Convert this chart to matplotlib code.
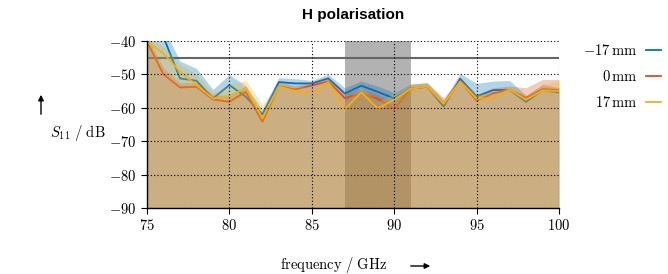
import numpy as np
import matplotlib
matplotlib.use("Agg")
import matplotlib.pyplot as plt
from matplotlib.patches import FancyArrowPatch

plt.rcParams['mathtext.fontset'] = 'cm'
plt.rcParams['font.family'] = ['DejaVu Serif']

freq = np.arange(75, 101)

s11_m17 = [-36.0, -38.8, -51.2, -51.9, -57.2, -53.2, -56.7, -62.0, -52.3, -52.7, -52.7, -51.2,
           -55.7, -53.4, -55.2, -57.2, -54.3, -53.7, -59.6, -51.3, -56.6, -54.7, -54.6, -58.2,
           -54.7, -55.4]
s11_0 = [-40.2, -50.0, -53.9, -53.7, -57.5, -58.2, -55.2, -64.2, -53.5, -54.5, -53.3, -52.1,
         -57.1, -55.8, -57.3, -60.4, -54.2, -53.7, -58.7, -52.0, -57.9, -55.7, -54.6, -57.0,
         -54.4, -54.7]
s11_p17 = [-40.2, -43.7, -49.2, -53.2, -57.2, -56.4, -54.2, -63.1, -53.6, -55.0, -56.1, -52.4,
           -60.5, -55.4, -60.2, -57.6, -54.3, -53.6, -58.8, -52.2, -57.2, -57.2, -54.5, -57.6,
           -54.8, -55.0]

hi_m17 = [-33.0, -36.0, -46.0, -48.2, -54.5, -50.0, -53.5, -60.5, -51.0, -51.3, -51.8, -50.0,
          -54.0, -52.0, -53.5, -55.5, -53.0, -52.5, -57.8, -49.7, -52.7, -52.0, -51.8, -56.3,
          -53.0, -54.0]
hi_0 = [-38.5, -48.0, -52.5, -52.5, -56.0, -56.5, -53.5, -62.5, -52.3, -53.3, -52.3, -51.0,
        -55.5, -54.5, -56.0, -58.5, -52.8, -52.5, -57.0, -51.0, -56.0, -54.0, -53.5, -54.0,
        -51.5, -51.5]
hi_p17 = [-39.0, -41.5, -47.0, -50.0, -55.5, -53.0, -51.8, -59.0, -52.5, -53.5, -54.0, -51.5,
          -58.0, -54.0, -58.0, -56.0, -53.0, -52.5, -57.5, -51.5, -56.0, -55.5, -53.5, -56.5,
          -53.0, -52.0]

labels = [r'$-17\,\mathrm{mm}$', r'$0\,\mathrm{mm}$', r'$17\,\mathrm{mm}$']
colors = ['#0072BD', '#D95319', '#EDB120']
band = (87, 91)
limit = -45
xticks = [75, 80, 85, 90, 95, 100]
yticks = [-90, -80, -70, -60, -50, -40]

fig = plt.figure(figsize=(6.68, 2.74), dpi=100)
ax = fig.add_axes([147/668, 1-208/274, 412/668, 167/274])

ax.axvspan(band[0], band[1], color='#808080', alpha=0.6, lw=0, zorder=1.0)
ax.axhline(limit, color='#666666', lw=1.5, zorder=1.1)

series = [s11_m17, s11_0, s11_p17]
highs = [hi_m17, hi_0, hi_p17]
handles = []
for i, (y, hi, c, lab) in enumerate(zip(series, highs, colors, labels)):
    ax.fill_between(freq, -90, hi, color=c, alpha=0.3, lw=0, zorder=1.2 + 0.2*i)
    h, = ax.plot(freq, y, color=c, lw=1.3, zorder=1.3 + 0.2*i, label=lab)
    handles.append(h)

ax.set_xlim(75, 100)
ax.set_ylim(-90, -40)
ax.set_xticks(xticks)
ax.set_xticklabels([rf'${v}$' for v in xticks])
ax.set_yticks(yticks)
ax.set_yticklabels([rf'${v}$' for v in yticks])
ax.tick_params(labelsize=10.5, direction='out', length=4, width=0.8, color='black')
ax.set_axisbelow(False)
ax.grid(True, color='black', linestyle=(0, (1, 2)), linewidth=0.8)
ax.spines['top'].set_visible(False)
ax.spines['right'].set_visible(False)
ax.spines['left'].set_linewidth(1.0)
ax.spines['bottom'].set_linewidth(1.0)

fig.text(353/668, 1-15/274, 'H polarisation', ha='center', va='center',
         fontsize=11, fontweight='bold', family='Liberation Sans')

fig.text(78/668, 1-133/274, r'$S_{11}\ /\ \mathrm{dB}$', ha='center', va='center', fontsize=10.5)
fig.add_artist(FancyArrowPatch((41/668, 1-117/274), (41/668, 1-92/274),
                               transform=fig.transFigure, arrowstyle='-|>',
                               mutation_scale=8, color='black', lw=1.0))
fig.text(334/668, 1-265/274, r'$\mathrm{frequency}\ /\ \mathrm{GHz}$', ha='center',
         va='center', fontsize=10.5)
fig.add_artist(FancyArrowPatch((408/668, 1-266/274), (433/668, 1-266/274),
                               transform=fig.transFigure, arrowstyle='-|>',
                               mutation_scale=8, color='black', lw=1.0))

fig.legend(handles=handles, loc='upper right', bbox_to_anchor=(1.0, 1-36/274),
           markerfirst=False, frameon=False, handlelength=1.0, handletextpad=0.6,
           labelspacing=0.75, fontsize=10.5, borderaxespad=0.1)

fig.savefig('out.png', dpi=100)
